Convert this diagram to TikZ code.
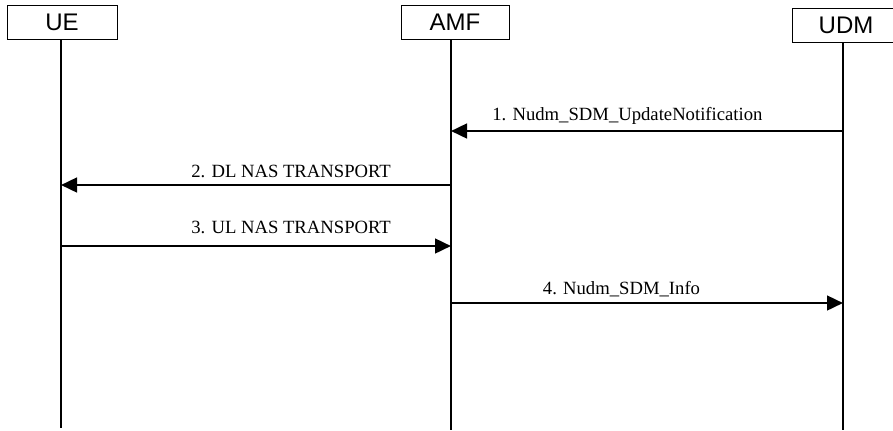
\documentclass[tikz,border=0pt]{standalone}
\usepackage{fontspec}
\setmainfont{Liberation Serif}
\newfontfamily\entityfont{Liberation Sans}
\usetikzlibrary{arrows.meta}

\tikzset{
  entity/.style={draw,line width=0.75pt,rectangle,minimum height=25.5pt,inner sep=0pt,
    font={\entityfont\fontsize{18}{20}\selectfont}},
  lifeline/.style={line width=1pt},
  msg/.style={line width=1.9pt,-{Triangle[length=12pt,width=11pt]}},
  msglabel/.style={anchor=base,inner sep=0pt,font={\fontsize{14}{16}\selectfont}}
}

\begin{document}
\begin{tikzpicture}[x=0.75pt,y=-0.75pt]
\useasboundingbox (0,0) rectangle (893,430);

\node[entity,minimum width=82.5pt] (ue) at (62,22) {UE};
\node[entity,minimum width=81pt] (amf) at (455,22.5) {AMF};
\node[entity,minimum width=81pt] (udm) at (846,25) {UDM};

\coordinate (ueend) at (61,428);
\coordinate (amfend) at (451,430);
\coordinate (udmend) at (843,430);

\draw[lifeline] (ue.south -| ueend) -- (ueend);
\draw[lifeline] (amf.south -| amfend) -- (amfend);
\draw[lifeline] (udm.south -| udmend) -- (udmend);

% message points on the lifelines
\coordinate (udm1) at (843,131);
\coordinate (amf1) at (451,131);
\coordinate (amf2) at (451,185);
\coordinate (ue2) at (61,185);
\coordinate (ue3) at (61,246);
\coordinate (amf3) at (451,246);
\coordinate (amf4) at (451,303);
\coordinate (udm4) at (843,303);

\draw[msg] (udm1) -- node[msglabel,pos=0.55,yshift=8.25pt] {1. Nudm\_SDM\_UpdateNotification} (amf1);
\draw[msg] (amf2) -- node[msglabel,pos=0.41,yshift=6pt] {2. DL NAS TRANSPORT} (ue2);
\draw[msg] (ue3) -- node[msglabel,pos=0.59,yshift=9.75pt] {3. UL NAS TRANSPORT} (amf3);
\draw[msg] (amf4) -- node[msglabel,pos=0.435,yshift=6.75pt] {4. Nudm\_SDM\_Info} (udm4);

\end{tikzpicture}
\end{document}
